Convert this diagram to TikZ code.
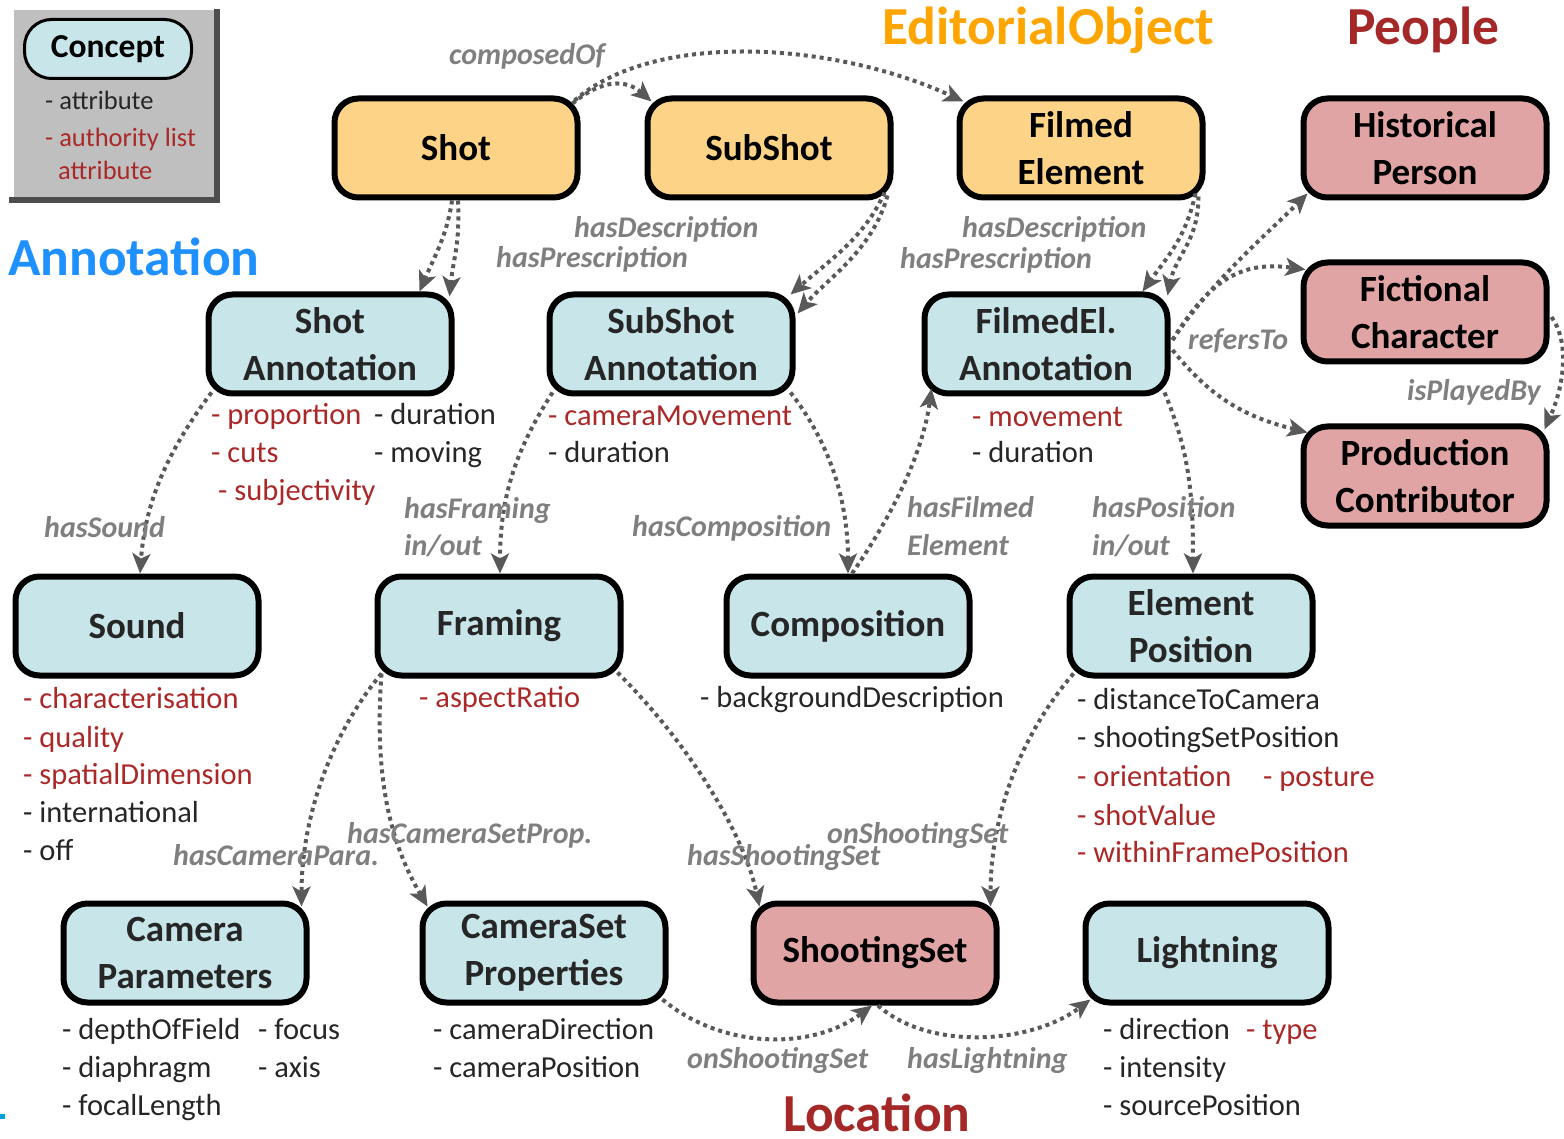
\documentclass[tikz,border=0pt]{standalone}
\usepackage{fontspec}
\setmainfont{Carlito}
\usetikzlibrary{arrows.meta}

\definecolor{edfill}{RGB}{253,211,135}
\definecolor{anfill}{RGB}{200,230,234}
\definecolor{pefill}{RGB}{224,164,164}
\definecolor{attrred}{RGB}{170,40,40}
\definecolor{attrblack}{RGB}{38,38,38}
\definecolor{linkgray}{RGB}{89,89,89}
\definecolor{labelgray}{RGB}{127,127,127}
\definecolor{edorange}{RGB}{255,165,0}
\definecolor{peoplered}{RGB}{165,40,40}
\definecolor{annblue}{RGB}{30,144,255}
\definecolor{legfill}{RGB}{191,191,191}
\definecolor{legdark}{RGB}{77,77,77}
\definecolor{markblue}{RGB}{0,160,230}

\newcommand\cpfont{\fontsize{37}{46.5}\selectfont\bfseries}
\newcommand\atfont{\fontsize{30.5}{36}\selectfont}
\newcommand\lbfont{\fontsize{30}{36}\selectfont\bfseries\itshape}
\newcommand\ttlfont{\fontsize{53.5}{60}\selectfont\bfseries}
\newcommand\lgfont{\fontsize{26.5}{30}\selectfont}

\begin{document}
\begin{tikzpicture}[x=1pt,y=-1pt,
  cbox/.style={draw=black, line width=6pt, rounded corners=24pt,
    minimum width=243pt, minimum height=99pt, inner sep=0pt,
    align=center, font=\cpfont, text=attrblack},
  edit/.style={cbox, fill=edfill, text=black},
  annot/.style={cbox, fill=anfill},
  people/.style={cbox, fill=pefill, text=black},
  attr/.style={anchor=base west, font=\atfont, text=attrblack, inner sep=0pt},
  attrr/.style={attr, text=attrred},
  lbl/.style={anchor=base west, font=\lbfont, text=labelgray, inner sep=0pt},
  grouptitle/.style={anchor=base west, font=\ttlfont, inner sep=0pt},
  link/.style={draw=linkgray, line width=4pt, dash pattern=on 4pt off 4pt,
    -{Stealth[length=20pt,width=18pt,inset=5pt]}}]
\useasboundingbox (0,0) rectangle (1564,1139);

% legend
\fill[legfill] (14,10) rectangle (214,197);
\fill[legdark] (214,9) rectangle (220,203);
\fill[legdark] (9,197) rectangle (220,203);
\node[cbox, fill=anfill, line width=3pt, minimum width=167pt, minimum height=59pt,
  rounded corners=27pt, font=\fontsize{33.5}{40}\selectfont\bfseries, text=black]
  (legconcept) at (108,49) {Concept};
\node[anchor=base west, font=\lgfont, text=attrblack, inner sep=0pt] (legattr) at (45,110) {- attribute};
\node[anchor=base west, font=\lgfont, text=attrred, inner sep=0pt] (legauth) at (45,147) {- authority list};
\node[anchor=base west, font=\lgfont, text=attrred, inner sep=0pt] (legauthb) at (58,180) {attribute};

% group titles
\node[grouptitle, text=edorange] (tEditorial) at (882,45) {EditorialObject};
\node[grouptitle, text=peoplered] (tPeople) at (1347,45) {People};
\node[grouptitle, text=annblue] (tAnnotation) at (8,276) {Annotation};
\node[grouptitle, text=peoplered] (tLocation) at (783,1131) {Location};
\fill[markblue] (0,1114) rectangle (5,1119);

% concepts
\node[edit] (shot) at (456,148) {Shot};
\node[edit] (subshot) at (769,148) {SubShot};
\node[edit] (filmed) at (1081,148) {Filmed\\Element};
\node[people] (hist) at (1425,148) {Historical\\Person};
\node[people] (fict) at (1425,312) {Fictional\\Character};
\node[people] (prod) at (1425,476) {Production\\Contributor};
\node[annot] (shotann) at (330,344) {Shot\\Annotation};
\node[annot] (subann) at (671,344) {SubShot\\Annotation};
\node[annot] (filmann) at (1046,344) {FilmedEl.\\Annotation};
\node[annot] (sound) at (137,626) {Sound};
\node[annot] (framing) at (499,626) {Framing};
\node[annot] (comp) at (848,626) {Composition};
\node[annot] (elpos) at (1191,626) {Element\\Position};
\node[annot] (campar) at (185,953) {Camera\\Parameters};
\node[annot] (camset) at (544,953) {CameraSet\\Properties};
\node[people] (shootset) at (875,953) {ShootingSet};
\node[annot] (light) at (1207,953) {Lightning};

% attributes
\node[attrr] (saA) at (211,425) {- proportion};
\node[attrr] (saB) at (211,463) {- cuts};
\node[attrr] (saC) at (218,500) {- subjectivity};
\node[attr] (saD) at (374,425) {- duration};
\node[attr] (saE) at (374,463) {- moving};
\node[attrr] (ssA) at (548,426) {- cameraMovement};
\node[attr] (ssB) at (548,463) {- duration};
\node[attrr] (feA) at (972,427) {- movement};
\node[attr] (feB) at (972,463) {- duration};
\node[attrr] (soA) at (23,708) {- characterisation};
\node[attrr] (soB) at (23,747) {- quality};
\node[attrr] (soC) at (23,784) {- spatialDimension};
\node[attr] (soD) at (23,822) {- international};
\node[attr] (soE) at (23,860) {- off};
\node[attrr] (frA) at (419,707) {- aspectRatio};
\node[attr] (coA) at (700,707) {- backgroundDescription};
\node[attr] (epA) at (1077,709) {- distanceToCamera};
\node[attr] (epB) at (1077,747) {- shootingSetPosition};
\node[attrr] (epC) at (1077,786) {- orientation};
\node[attrr] (epD) at (1263,786) {- posture};
\node[attrr] (epE) at (1077,825) {- shotValue};
\node[attrr] (epF) at (1077,862) {- withinFramePosition};
\node[attr] (cpA) at (62,1039) {- depthOfField};
\node[attr] (cpB) at (62,1077) {- diaphragm};
\node[attr] (cpC) at (62,1115) {- focalLength};
\node[attr] (cpD) at (258,1039) {- focus};
\node[attr] (cpE) at (258,1077) {- axis};
\node[attr] (csA) at (433,1039) {- cameraDirection};
\node[attr] (csB) at (433,1077) {- cameraPosition};
\node[attr] (liA) at (1103,1039) {- direction};
\node[attrr] (liB) at (1246,1039) {- type};
\node[attr] (liC) at (1103,1077) {- intensity};
\node[attr] (liD) at (1103,1115) {- sourcePosition};

% relations
\draw[link] ([shift={(-8,8)}]shot.north east) .. controls +(30,-25) and +(-25,-22) .. ([shift={(7,6)}]subshot.north west);
\draw[link] ([shift={(-6,5)}]shot.north east) .. controls +(80,-70) and +(-130,-60) .. ([shift={(7,6)}]filmed.north west);

\draw[link] ([shift={(-4,0)}]shot.south) .. controls +(-5,35) and +(15,-35) .. ([shift={(-35,0)}]shotann.north east);
\draw[link] ([shift={(2,0)}]shot.south) .. controls +(2,45) and +(4,-40) .. ([shift={(-5,5)}]shotann.north east);

\draw[link] ([shift={(-9,-8)}]subshot.south east) .. controls +(-20,45) and +(40,-35) .. ([shift={(-5,3)}]subann.north east);
\draw[link] ([shift={(-6,-5)}]subshot.south east) .. controls +(-15,55) and +(30,-35) .. ([shift={(2,22)}]subann.north east);

\draw[link] ([shift={(-10,-7)}]filmed.south east) .. controls +(-10,45) and +(25,-35) .. ([shift={(-28,0)}]filmann.north east);
\draw[link] ([shift={(-7,-4)}]filmed.south east) .. controls +(0,45) and +(8,-40) .. ([shift={(-3,4)}]filmann.north east);

\draw[link] ([shift={(2,-4)}]filmann.east) .. controls +(40,-60) and +(-40,40) .. ([shift={(7,-7)}]hist.south west);
\draw[link] ([shift={(2,-4)}]filmann.east) .. controls +(40,-65) and +(-60,-8) .. ([shift={(5,10)}]fict.north west);
\draw[link] ([shift={(2,6)}]filmann.east) .. controls +(40,50) and +(-60,-15) .. ([shift={(7,9)}]prod.north west);
\draw[link] ([shift={(2,5)}]fict.east) .. controls +(18,25) and +(20,-45) .. ([shift={(-5,6)}]prod.north east);

\draw[link] ([shift={(6,-4)}]shotann.south west) .. controls +(-45,60) and +(5,-70) .. ([shift={(3,0)}]sound.north);
\draw[link] ([shift={(6,-4)}]subann.south west) .. controls +(-35,55) and +(0,-80) .. ([shift={(1,0)}]framing.north);
\draw[link] ([shift={(-5,-4)}]subann.south east) .. controls +(35,45) and +(0,-80) .. (comp.north);
\draw[link] ([shift={(4,0)}]comp.north) .. controls +(45,-65) and +(-8,60) .. ([shift={(10,-8)}]filmann.south west);
\draw[link] ([shift={(-6,-4)}]filmann.south east) .. controls +(25,60) and +(0,-80) .. ([shift={(2,0)}]elpos.north);

\draw[link] ([shift={(7,-5)}]framing.south west) .. controls +(-50,60) and +(0,-90) .. ([shift={(-8,6)}]campar.north east);
\draw[link] ([shift={(7,-5)}]framing.south west) .. controls +(-8,110) and +(-35,-60) .. ([shift={(8,6)}]camset.north west);
\draw[link] ([shift={(-6,-6)}]framing.south east) .. controls +(75,75) and +(-15,-70) .. ([shift={(9,6)}]shootset.north west);
\draw[link] ([shift={(7,-5)}]elpos.south west) .. controls +(-60,70) and +(0,-80) .. ([shift={(-9,6)}]shootset.north east);
\draw[link] ([shift={(-6,-6)}]camset.south east) .. controls +(60,50) and +(-60,45) .. ([shift={(-3,0)}]shootset.south);
\draw[link] ([shift={(3,0)}]shootset.south) .. controls +(50,45) and +(-60,45) .. ([shift={(8,-6)}]light.south west);

% relation labels
\node[lbl] (lComposed) at (449,65) {composedOf};
\node[lbl] (lDescA) at (574,238) {hasDescription};
\node[lbl] (lPrescA) at (496,268) {hasPrescription};
\node[lbl] (lDescB) at (962,238) {hasDescription};
\node[lbl] (lPrescB) at (900,269) {hasPrescription};
\node[lbl] (lRefers) at (1188,350) {refersTo};
\node[lbl] (lPlayed) at (1407,401) {isPlayedBy};
\node[lbl] (lSound) at (44,537) {hasSound};
\node[lbl] (lFraming) at (404,518) {hasFraming};
\node[lbl] (lFramingB) at (404,555) {in/out};
\node[lbl] (lComp) at (632,536) {hasComposition};
\node[lbl] (lFilmed) at (907,517) {hasFilmed};
\node[lbl] (lFilmedB) at (907,555) {Element};
\node[lbl] (lPos) at (1092,517) {hasPosition};
\node[lbl] (lPosB) at (1092,555) {in/out};
\node[lbl] (lCamSet) at (347,843) {hasCameraSetProp.};
\node[lbl] (lCamPar) at (173,865) {hasCameraPara.};
\node[lbl] (lOnSetA) at (827,843) {onShootingSet};
\node[lbl] (lHasSet) at (687,865) {hasShootingSet};
\node[lbl] (lOnSetB) at (687,1068) {onShootingSet};
\node[lbl] (lLight) at (907,1068) {hasLightning};
\end{tikzpicture}
\end{document}
